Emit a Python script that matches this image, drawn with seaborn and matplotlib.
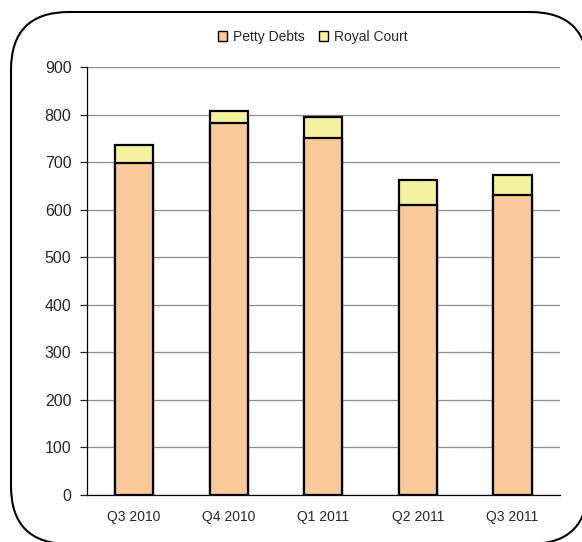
import numpy as np
import pandas as pd
import matplotlib
matplotlib.use('Agg')
import matplotlib.pyplot as plt
import seaborn as sns
from matplotlib.patches import FancyBboxPatch, Patch

quarters = ['Q3 2010', 'Q4 2010', 'Q1 2011', 'Q2 2011', 'Q3 2011']
petty_debts = [698, 782, 752, 610, 630]
royal_court = [38, 26, 43, 52, 43]

df = pd.DataFrame({'quarter': quarters, 'petty': petty_debts, 'royal': royal_court})
df['total'] = df['petty'] + df['royal']

sns.set_style('white')
plt.rcParams['font.family'] = ['Liberation Sans', 'DejaVu Sans']

fig = plt.figure(figsize=(5.82, 5.42), dpi=100)
ax = fig.add_axes([0.149, 0.087, 0.813, 0.789])

# rounded border, runs off the right and bottom edges like the original
border = FancyBboxPatch((0.11, -0.02), 5.77, 5.32,
                        boxstyle='round,pad=0,rounding_size=0.58',
                        transform=fig.dpi_scale_trans, facecolor='white',
                        edgecolor='black', linewidth=1.5, zorder=-10)
fig.patches.append(border)

# totals first (Royal Court colour), Petty Debts drawn over them
sns.barplot(data=df, x='quarter', y='total', color='#F4F29C', saturation=1,
            edgecolor='black', linewidth=1.6, width=0.405, ax=ax, zorder=3)
sns.barplot(data=df, x='quarter', y='petty', color='#F9C99A', saturation=1,
            edgecolor='black', linewidth=1.6, width=0.405, ax=ax, zorder=4)

ax.set_xlim(-0.5, 4.5)
ax.set_ylim(0, 900)
ax.set_yticks(range(0, 901, 100))
ax.set_xlabel('')
ax.set_ylabel('')
ax.yaxis.grid(True, color='#8c8c8c', linewidth=0.9)
ax.set_axisbelow(True)

for side in ['top', 'right']:
    ax.spines[side].set_visible(False)
for side in ['left', 'bottom']:
    ax.spines[side].set_color('black')
    ax.spines[side].set_linewidth(0.9)

ax.set_xticks(np.arange(-0.5, 5, 1), minor=True)
ax.tick_params(axis='x', which='major', length=0, pad=11, labelsize=10)
ax.tick_params(axis='x', which='minor', length=5, direction='out', width=0.9)
ax.tick_params(axis='y', length=5, direction='out', width=0.9, left=True,
               labelsize=11.5, pad=6)

handles = [Patch(facecolor='#F9C99A', edgecolor='black', label='Petty Debts'),
           Patch(facecolor='#F4F29C', edgecolor='black', label='Royal Court')]
fig.legend(handles=handles, loc='center', bbox_to_anchor=(0.537, 0.932), ncol=2,
           frameon=False, fontsize=10, handlelength=0.7, handleheight=0.7,
           handletextpad=0.4, columnspacing=1.0)

fig.savefig('out.png', dpi=100)
